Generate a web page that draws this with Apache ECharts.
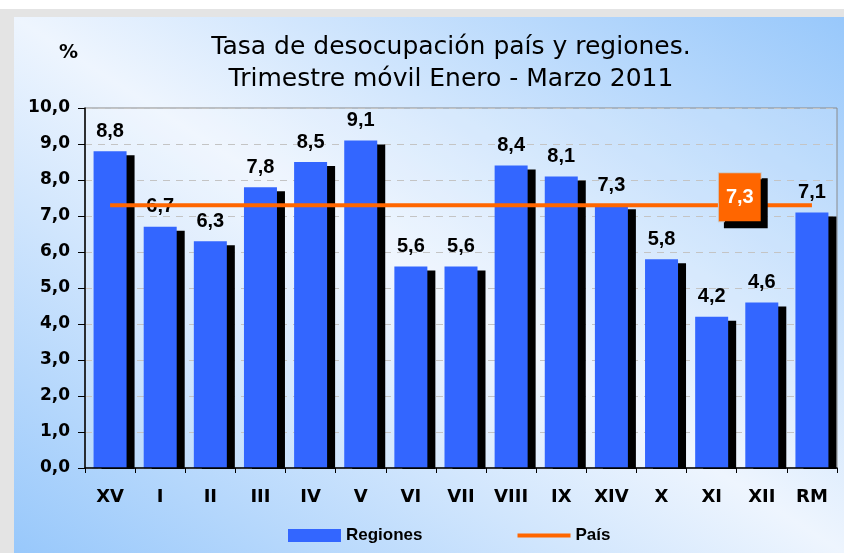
<!DOCTYPE html>
<html>
<head>
<meta charset="utf-8">
<title>Tasa de desocupación</title>
<script src="https://cdn.jsdelivr.net/npm/echarts@6/dist/echarts.min.js"></script>
<style>
html, body { margin: 0; padding: 0; background: #fff; }
#frame { position: absolute; left: 0; top: 9px; width: 844px; height: 544px; background: #e4e4e4; }
#fondo { position: absolute; left: 14px; top: 17px; width: 830px; height: 536px;
  background: linear-gradient(to bottom left, #98c8fb 0%, #eef5fe 50%, #98c8fb 100%); }
#main { position: absolute; left: 0; top: 0; width: 844px; height: 553px; }
</style>
</head>
<body>
<div id="frame"></div>
<div id="fondo"></div>
<div id="main"></div>

<script type="text/javascript">

let REGIONES = ['XV','I','II','III','IV','V','VI','VII','VIII','IX','XIV','X','XI','XII','RM'];
let TASAS = [8.8, 6.7, 6.3, 7.8, 8.5, 9.1, 5.6, 5.6, 8.4, 8.1, 7.3, 5.8, 4.2, 4.6, 7.1];
let TASA_PAIS = 7.3;
let Y_TICKS = { min: 0, max: 10, step: 1 };

// coma decimal como en el original
function fmt(v){
	return Number(v).toFixed(1).replace('.', ',');
}

let paisLinea = REGIONES.map(() => TASA_PAIS);

// mismo degradado que #fondo, para tapar la sombra de las barras bajo el eje
function fondoGradient(){
	let bx = 14, by = 17, W = 830, H = 536;
	let cx = bx + W / 2, cy = by + H / 2;
	let diag = Math.sqrt(W * W + H * H);
	let dx = -H / diag, dy = W / diag;
	let half = W * H / diag;
	return {
		type: 'linear', global: true,
		x: cx - dx * half, y: cy - dy * half,
		x2: cx + dx * half, y2: cy + dy * half,
		colorStops: [
			{ offset: 0, color: '#98c8fb' },
			{ offset: 0.5, color: '#eef5fe' },
			{ offset: 1, color: '#98c8fb' }
		]
	};
}

let myChart = echarts.init(document.getElementById('main'));

let option = {
	backgroundColor: 'transparent',
	animation: false,
	title: {
		text: 'Tasa de desocupación país y regiones.\nTrimestre móvil Enero - Marzo 2011',
		left: 446,
		top: 26,
		textAlign: 'center',
		textStyle: {
			fontFamily: 'DejaVu Sans',
			fontWeight: 'normal',
			fontSize: 25,
			lineHeight: 32,
			color: '#000'
		}
	},
	graphic: [{
		type: 'text',
		left: 59,
		top: 44,
		style: { text: '%', fontFamily: 'DejaVu Sans', fontWeight: 'bold', fontSize: 19, fill: '#000' }
	}, {
		type: 'rect',
		z: 5,
		silent: true,
		shape: { x: 86, y: 469, width: 752, height: 6 },
		style: { fill: fondoGradient() }
	}],
	legend: {
		left: 288,
		top: 527,
		padding: 0,
		itemWidth: 53,
		itemHeight: 13,
		itemGap: 95,
		textStyle: { fontFamily: 'Liberation Sans', fontWeight: 'bold', fontSize: 17, color: '#000' },
		data: [
			{ name: 'Regiones', icon: 'rect' },
			{ name: 'País', icon: 'path://M0,0 L53,0 L53,4 L0,4 Z' }
		]
	},
	grid: {
		left: 85, right: 7, top: 108, bottom: 85,
		show: true,
		backgroundColor: 'rgba(255,255,255,0.15)',
		borderColor: '#8a8a8a',
		borderWidth: 1
	},
	xAxis: {
		type: 'category',
		data: REGIONES,
		z: 10,
		axisLine: { lineStyle: { color: '#000', width: 1.5 } },
		axisTick: { show: true, length: 5, lineStyle: { color: '#000' } },
		axisLabel: {
			margin: 20,
			interval: 0,
			fontFamily: 'DejaVu Sans',
			fontWeight: 'bold',
			fontSize: 18,
			color: '#000'
		}
	},
	yAxis: {
		type: 'value',
		min: Y_TICKS.min,
		max: Y_TICKS.max,
		interval: Y_TICKS.step,
		axisLine: { show: true, lineStyle: { color: '#000', width: 1.5 } },
		axisTick: { show: true, length: 7, lineStyle: { color: '#000' } },
		axisLabel: {
			margin: 15,
			formatter: fmt,
			fontFamily: 'DejaVu Sans',
			fontWeight: 'bold',
			fontSize: 17,
			color: '#000'
		},
		splitLine: { lineStyle: { color: '#c4c4c4', type: [7, 6] } }
	},
	series: [{
		name: 'Regiones',
		type: 'bar',
		data: TASAS,
		barWidth: 33,
		itemStyle: {
			color: '#3366ff',
			shadowColor: '#000',
			shadowBlur: 0,
			shadowOffsetX: 8,
			shadowOffsetY: 4
		},
		label: {
			show: true,
			position: 'top',
			distance: 10,
			formatter: (p) => fmt(p.value),
			fontFamily: 'Liberation Sans',
			fontWeight: 'bold',
			fontSize: 20,
			color: '#000'
		}
	}, {
		name: 'País',
		type: 'line',
		data: paisLinea,
		symbol: 'none',
		z: 3,
		lineStyle: { color: '#ff6600', width: 4 },
		itemStyle: { color: '#ff6600' },
		markPoint: {
			symbol: 'circle',
			symbolSize: 1,
			itemStyle: { color: 'transparent' },
			data: [{ coord: ['XII', TASA_PAIS], value: TASA_PAIS }],
			label: {
				show: true,
				position: 'inside',
				offset: [-22, -8],
				formatter: (p) => fmt(p.value),
				fontFamily: 'Liberation Sans',
				fontWeight: 'bold',
				fontSize: 20,
				color: '#fff',
				backgroundColor: '#ff6600',
				borderColor: '#c8c8c8',
				borderWidth: 1,
				padding: [14, 7],
				shadowColor: '#000',
				shadowBlur: 0,
				shadowOffsetX: 6,
				shadowOffsetY: 6
			}
		}
	}]
};

myChart.setOption(option);

</script>

</body>
</html>
